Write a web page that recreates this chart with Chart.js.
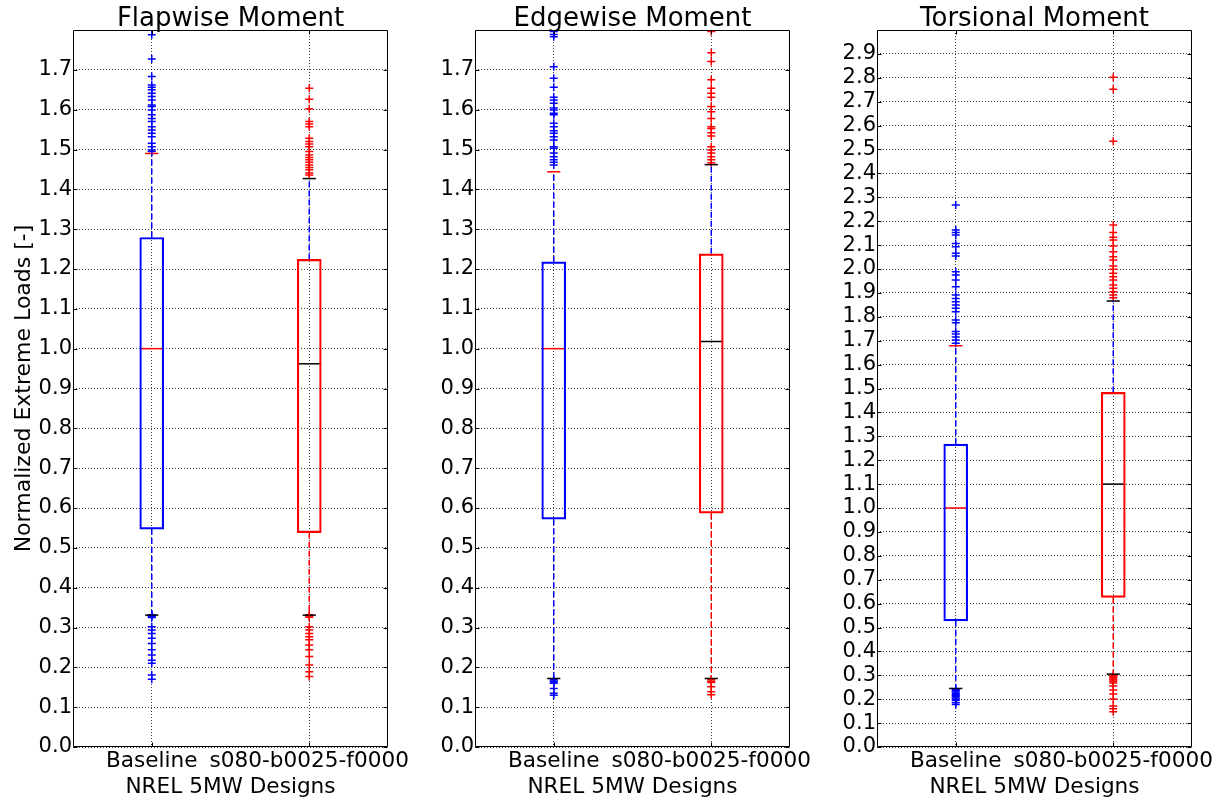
<!DOCTYPE html>
<html><head><meta charset="utf-8">
<script src="https://cdn.jsdelivr.net/npm/chart.js@4.4.0/dist/chart.umd.min.js"></script>
<style>
html,body{margin:0;padding:0;background:#fff;}
#wrap{position:relative;width:1224px;height:800px;background:#fff;}
canvas{position:absolute;left:0;top:0;}
</style></head><body>
<div id="wrap">
<canvas id="c0" width="1224" height="800"></canvas>
<canvas id="c1" width="1224" height="800"></canvas>
<canvas id="c2" width="1224" height="800"></canvas>
</div>
<script>
// ---------- DATA ----------
const categories = ['Baseline', 's080-b0025-f0000'];
const positions = [1, 2];
const panelTitles = ['Flapwise Moment', 'Edgewise Moment', 'Torsional Moment'];
const xAxisTitle = 'NREL 5MW Designs';
const yAxisTitle = 'Normalized Extreme Loads [-]';

const yMaxes = [1.8, 1.8, 3.0];
const yTicksFlap = [0.0,0.1,0.2,0.3,0.4,0.5,0.6,0.7,0.8,0.9,1.0,1.1,1.2,1.3,1.4,1.5,1.6,1.7];
const yTicksEdge = [0.0,0.1,0.2,0.3,0.4,0.5,0.6,0.7,0.8,0.9,1.0,1.1,1.2,1.3,1.4,1.5,1.6,1.7];
const yTicksTors = [0.0,0.1,0.2,0.3,0.4,0.5,0.6,0.7,0.8,0.9,1.0,1.1,1.2,1.3,1.4,1.5,1.6,1.7,1.8,1.9,2.0,2.1,2.2,2.3,2.4,2.5,2.6,2.7,2.8,2.9];

// Flapwise: [Baseline, s080]
const flapQ1 = [0.547, 0.538];
const flapMedian = [1.000, 0.962];
const flapQ3 = [1.279, 1.224];
const flapWhiskerLo = [0.331, 0.331];
const flapWhiskerHi = [1.490, 1.427];
const flapOutliersBaseline = [1.788,1.727,1.683,1.662,1.656,1.650,1.641,1.633,1.624,1.612,1.608,1.599,1.587,1.578,1.570,1.557,1.549,1.541,1.532,1.516,1.507,1.499,1.495,0.332,0.330,0.328,0.325,0.302,0.294,0.285,0.273,0.260,0.244,0.231,0.218,0.210,0.181,0.170];
const flapOutliersS080 = [1.654,1.626,1.602,1.570,1.564,1.557,1.528,1.520,1.514,1.507,1.495,1.486,1.480,1.474,1.468,1.461,1.455,1.449,1.441,1.436,0.332,0.329,0.326,0.302,0.294,0.285,0.277,0.269,0.256,0.244,0.227,0.206,0.189,0.177];

// Edgewise
const edgeQ1 = [0.572, 0.587];
const edgeMedian = [1.000, 1.018];
const edgeQ3 = [1.218, 1.238];
const edgeWhiskerLo = [0.172, 0.172];
const edgeWhiskerHi = [1.444, 1.462];
const edgeOutliersBaseline = [1.796,1.789,1.783,1.708,1.679,1.656,1.631,1.624,1.616,1.604,1.599,1.591,1.587,1.566,1.557,1.547,1.541,1.532,1.524,1.507,1.503,1.491,1.482,1.474,1.468,1.461,0.169,0.166,0.163,0.160,0.147,0.135,0.130];
const edgeOutliersS080 = [1.796,1.743,1.721,1.675,1.654,1.641,1.631,1.608,1.595,1.578,1.557,1.553,1.542,1.534,1.507,1.499,1.491,1.482,1.474,1.467,0.169,0.165,0.162,0.151,0.139,0.131];

// Torsional
const torsQ1 = [0.528, 0.626];
const torsMedian = [1.000, 1.100];
const torsQ3 = [1.267, 1.484];
const torsWhiskerLo = [0.245, 0.305];
const torsWhiskerHi = [1.679, 1.866];
const torsOutliersBaseline = [2.268,2.163,2.153,2.142,2.107,2.093,2.066,2.054,1.989,1.975,1.954,1.926,1.891,1.877,1.863,1.849,1.836,1.821,1.787,1.775,1.738,1.728,1.715,1.703,1.689,0.240,0.235,0.230,0.225,0.220,0.215,0.210,0.205,0.200,0.195,0.185,0.178];
const torsOutliersS080 = [2.802,2.752,2.534,2.184,2.153,2.133,2.121,2.096,2.072,2.051,2.038,2.013,1.999,1.982,1.968,1.954,1.933,1.919,1.905,1.891,1.880,0.300,0.295,0.290,0.285,0.280,0.275,0.268,0.255,0.238,0.222,0.201,0.172,0.160,0.148];

// ---------- STYLE ----------
const BLUE = '#0000ff', RED = '#ff0000', BLACK = '#000000';
const boxColors = [BLUE, RED];
const medianColors = [RED, BLACK];
const whiskerHiColors = [BLUE, BLUE];
const whiskerLoColors = [BLUE, RED];
const capHiColors = [RED, BLACK];
const capLoColors = [BLACK, BLACK];
const outlierColors = [BLUE, RED];
const BOX_HALF = 0.076;   // half box width in x data units
const CAP_HALF = 0.042;

const plotLeft = [73, 475, 877];
const plotRight = [388, 790, 1192];
const yAxisWidth = [73, 60, 60];
const CANVAS_W = 1224;

Chart.defaults.font.family = "'DejaVu Sans', sans-serif";
Chart.defaults.color = '#000';

const panels = [
  {title: panelTitles[0], q1: flapQ1, med: flapMedian, q3: flapQ3, lo: flapWhiskerLo, hi: flapWhiskerHi, out: [flapOutliersBaseline, flapOutliersS080], yMax: yMaxes[0], yTicks: yTicksFlap},
  {title: panelTitles[1], q1: edgeQ1, med: edgeMedian, q3: edgeQ3, lo: edgeWhiskerLo, hi: edgeWhiskerHi, out: [edgeOutliersBaseline, edgeOutliersS080], yMax: yMaxes[1], yTicks: yTicksEdge},
  {title: panelTitles[2], q1: torsQ1, med: torsMedian, q3: torsQ3, lo: torsWhiskerLo, hi: torsWhiskerHi, out: [torsOutliersBaseline, torsOutliersS080], yMax: yMaxes[2], yTicks: yTicksTors}
];

const framePlugin = {
  id: 'frame',
  afterDatasetsDraw(chart) {
    const {ctx, chartArea: a, scales} = chart;
    ctx.save();
    ctx.setLineDash([]);
    ctx.strokeStyle = '#000';
    ctx.lineWidth = 1;
    const L = Math.round(a.left) + 0.5, R = Math.round(a.right) - 0.5;
    const T = Math.round(a.top) + 0.5, B = Math.round(a.bottom) - 0.5;
    ctx.beginPath();
    ctx.rect(L, T, R - L, B - T);
    scales.y.ticks.forEach(t => {
      const py = Math.round(scales.y.getPixelForValue(t.value)) + 0.5;
      ctx.moveTo(L, py); ctx.lineTo(L + 4, py);
      ctx.moveTo(R, py); ctx.lineTo(R - 4, py);
    });
    scales.x.ticks.forEach(t => {
      const px = Math.round(scales.x.getPixelForValue(t.value)) + 0.5;
      ctx.moveTo(px, B); ctx.lineTo(px, B - 4);
      ctx.moveTo(px, T); ctx.lineTo(px, T + 4);
    });
    ctx.stroke();
    ctx.restore();
  }
};

function segment(p1, p2, color, dash) {
  return {type: 'line', data: [p1, p2], borderColor: color, borderWidth: 1.5,
          borderDash: dash || [], pointRadius: 0, fill: false, tension: 0, clip: false};
}

panels.forEach((p, i) => {
  const datasets = [];
  // boxes
  datasets.push({
    type: 'bar',
    data: positions.map((x, k) => ({x: x, y: [p.q1[k], p.q3[k]]})),
    borderColor: boxColors, backgroundColor: 'rgba(0,0,0,0)',
    borderWidth: 1.5, borderSkipped: false, barThickness: 24, grouped: false
  });
  positions.forEach((x, k) => {
    // whiskers
    datasets.push(segment({x: x, y: p.q3[k]}, {x: x, y: p.hi[k]}, whiskerHiColors[k], [6, 3]));
    datasets.push(segment({x: x, y: p.q1[k]}, {x: x, y: p.lo[k]}, whiskerLoColors[k], [6, 3]));
    // caps
    datasets.push(segment({x: x - CAP_HALF, y: p.hi[k]}, {x: x + CAP_HALF, y: p.hi[k]}, capHiColors[k]));
    datasets.push(segment({x: x - CAP_HALF, y: p.lo[k]}, {x: x + CAP_HALF, y: p.lo[k]}, capLoColors[k]));
    // median
    datasets.push(segment({x: x - BOX_HALF, y: p.med[k]}, {x: x + BOX_HALF, y: p.med[k]}, medianColors[k]));
  });
  positions.forEach((x, k) => {
    datasets.push({
      type: 'scatter',
      data: p.out[k].map(v => ({x: x, y: v})),
      pointStyle: 'cross', pointRadius: 4, pointBorderWidth: 1.5,
      borderColor: outlierColors[k], backgroundColor: outlierColors[k], showLine: false
    });
  });

  const yTicks = p.yTicks;
  new Chart(document.getElementById('c' + i), {
    type: 'bar',
    data: {datasets},
    plugins: [framePlugin],
    options: {
      responsive: false, animation: false, devicePixelRatio: 1,
      layout: {padding: {left: plotLeft[i] - yAxisWidth[i], right: CANVAS_W - plotRight[i], top: 0, bottom: 0}},
      plugins: {
        legend: {display: false}, tooltip: {enabled: false},
        title: {display: true, text: p.title, fullSize: false,
                font: {size: 26, weight: 'normal', lineHeight: 22 / 26}, color: '#000',
                padding: {top: 8, bottom: 0}}
      },
      scales: {
        x: {
          type: 'linear', min: 0.5, max: 2.5, offset: false,
          afterBuildTicks: (ax) => { ax.ticks = positions.map(v => ({value: v})); },
          afterFit: (ax) => { ax.height = 53; ax.paddingLeft = 0; ax.paddingRight = 0; },
          ticks: {font: {size: 21.6}, color: '#000', padding: 1, maxRotation: 0, autoSkip: false,
                  callback: (v) => categories[positions.indexOf(v)]},
          grid: {color: 'rgba(0,0,0,0.75)', lineWidth: 1, drawTicks: false, offset: false, borderDash: [1, 2]},
          border: {display: false, dash: [1, 2]},
          title: {display: true, text: xAxisTitle, font: {size: 21.6}, color: '#000', padding: {top: 3, bottom: 0}}
        },
        y: {
          type: 'linear', min: 0, max: p.yMax,
          afterBuildTicks: (ax) => { ax.ticks = yTicks.map(v => ({value: v})); },
          afterFit: (ax) => { ax.width = yAxisWidth[i]; ax.paddingTop = 0; ax.paddingBottom = 0; },
          ticks: {font: {size: 21}, color: '#000', padding: 1, autoSkip: false,
                  callback: (v) => Number(v).toFixed(1)},
          grid: {color: 'rgba(0,0,0,0.75)', lineWidth: 1, drawTicks: false, borderDash: [1, 2]},
          border: {display: false, dash: [1, 2]},
          title: {display: i === 0, text: yAxisTitle, font: {size: 22}, color: '#000', padding: {top: 11, bottom: 0}}
        }
      }
    }
  });
});
</script>
</body></html>
